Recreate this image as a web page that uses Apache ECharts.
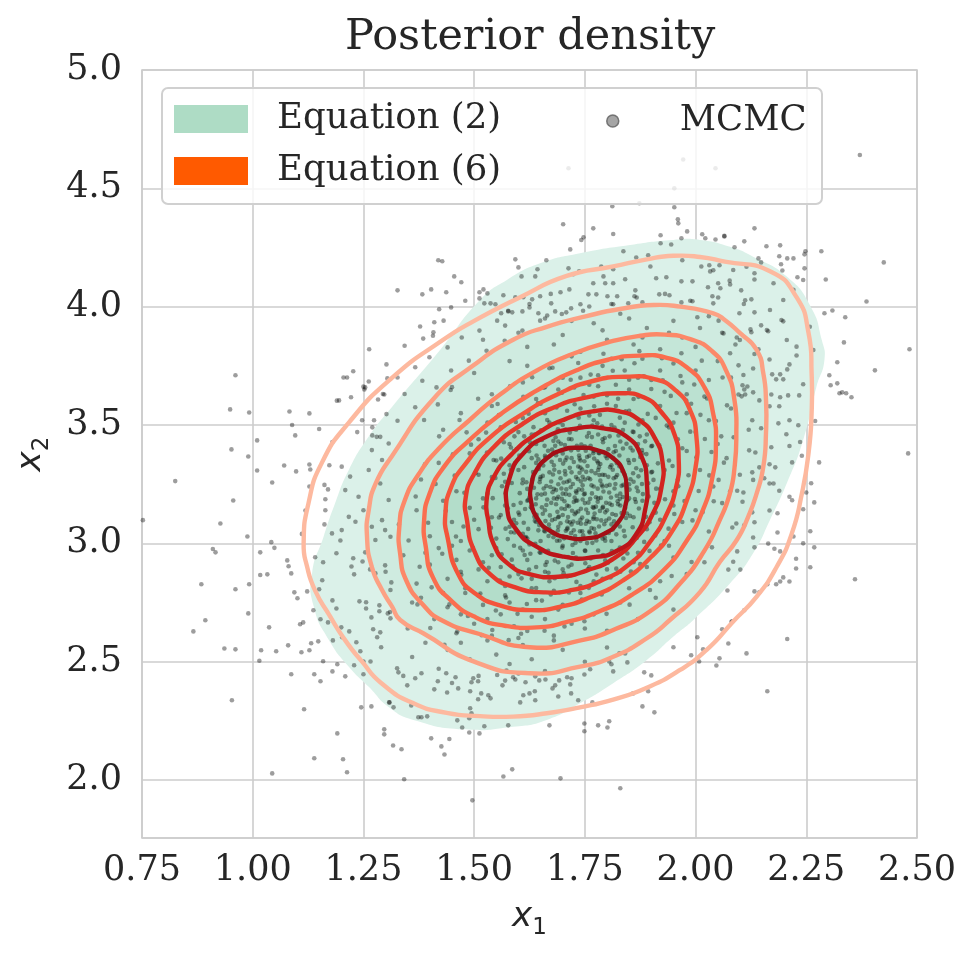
<!DOCTYPE html>
<html>
<head>
<meta charset="utf-8">
<title>Posterior density</title>
<script src="https://cdn.jsdelivr.net/npm/echarts@6.0.0/dist/echarts.min.js"></script>
<style>
html, body { margin: 0; padding: 0; background: #ffffff; }
#chart { width: 977px; height: 958px; }
</style>
</head>
<body>
<div id="chart"></div>
<script>
// axes
var xRange = [0.75, 2.50];
var yRange = [1.755, 5.0];
var xTickValues = [0.75, 1.00, 1.25, 1.50, 1.75, 2.00, 2.25, 2.50];
var xTickLabels = ['0.75', '1.00', '1.25', '1.50', '1.75', '2.00', '2.25', '2.50'];
var yTickValues = [2.0, 2.5, 3.0, 3.5, 4.0, 4.5, 5.0];
var yTickLabels = ['2.0', '2.5', '3.0', '3.5', '4.0', '4.5', '5.0'];

// Equation (2): outer filled density region
var eq2Outer = [[1.160,3.028],[1.186,3.169],[1.217,3.310],[1.262,3.451],[1.315,3.577],[1.423,3.817],[1.513,4.028],[1.574,4.113],[1.649,4.183],[1.739,4.226],[1.852,4.261],[1.950,4.282],[2.010,4.282],[2.078,4.253],[2.130,4.211],[2.206,4.127],[2.260,4.000],[2.285,3.859],[2.291,3.775],[2.273,3.662],[2.243,3.437],[2.206,3.254],[2.168,3.099],[2.130,2.958],[2.078,2.831],[1.995,2.676],[1.950,2.606],[1.890,2.507],[1.814,2.409],[1.739,2.324],[1.664,2.254],[1.588,2.225],[1.476,2.214],[1.363,2.254],[1.310,2.304],[1.262,2.394],[1.217,2.479],[1.172,2.592],[1.138,2.732],[1.134,2.873]];

// Equation (6): contour lines, outermost to innermost
var eq6Ring1 = [[1.115,3.00],[1.126,3.17],[1.156,3.34],[1.217,3.51],[1.315,3.70],[1.430,3.86],[1.500,3.94],[1.604,4.04],[1.709,4.13],[1.814,4.17],[1.890,4.20],[1.950,4.215],[2.010,4.21],[2.066,4.19],[2.168,4.15],[2.228,4.04],[2.255,3.89],[2.262,3.72],[2.262,3.55],[2.255,3.38],[2.240,3.21],[2.217,3.04],[2.183,2.90],[2.138,2.775],[2.085,2.67],[2.025,2.55],[1.965,2.465],[1.890,2.39],[1.814,2.34],[1.739,2.307],[1.664,2.282],[1.588,2.268],[1.513,2.27],[1.438,2.284],[1.363,2.324],[1.290,2.41],[1.247,2.50],[1.209,2.59],[1.172,2.70],[1.141,2.80],[1.123,2.90]];
var eq6Ring2 = [[1.258,3.03],[1.262,3.14],[1.277,3.25],[1.315,3.37],[1.408,3.61],[1.497,3.75],[1.588,3.86],[1.664,3.915],[1.754,3.96],[1.829,3.99],[1.905,4.007],[1.965,4.0],[2.040,3.972],[2.066,3.944],[2.100,3.889],[2.138,3.817],[2.153,3.718],[2.159,3.606],[2.159,3.465],[2.153,3.324],[2.138,3.211],[2.119,3.113],[2.093,3.014],[2.055,2.922],[2.010,2.794],[1.942,2.676],[1.890,2.599],[1.814,2.521],[1.739,2.479],[1.626,2.451],[1.500,2.50],[1.385,2.62],[1.333,2.676],[1.315,2.732],[1.292,2.803],[1.269,2.90]];
var eq6Ring3 = [[1.333,2.955],[1.331,3.068],[1.343,3.180],[1.375,3.293],[1.423,3.406],[1.488,3.518],[1.560,3.631],[1.641,3.730],[1.722,3.800],[1.802,3.849],[1.875,3.877],[1.931,3.882],[1.988,3.863],[2.036,3.814],[2.069,3.730],[2.088,3.603],[2.092,3.462],[2.088,3.321],[2.077,3.208],[2.054,3.096],[2.020,2.969],[1.964,2.828],[1.899,2.715],[1.819,2.638],[1.738,2.589],[1.625,2.561],[1.512,2.617],[1.429,2.673],[1.383,2.744],[1.347,2.842]];
var eq6Ring4 = [[1.391,2.983],[1.387,3.096],[1.399,3.208],[1.431,3.321],[1.488,3.434],[1.560,3.546],[1.641,3.645],[1.730,3.730],[1.810,3.779],[1.875,3.793],[1.931,3.786],[1.980,3.744],[2.020,3.659],[2.040,3.546],[2.046,3.420],[2.038,3.279],[2.016,3.138],[1.980,3.011],[1.927,2.885],[1.859,2.786],[1.786,2.715],[1.706,2.666],[1.641,2.645],[1.569,2.652],[1.504,2.687],[1.448,2.758],[1.407,2.856]];
var eq6Ring5 = [[1.440,3.025],[1.435,3.124],[1.448,3.237],[1.480,3.335],[1.536,3.448],[1.609,3.546],[1.690,3.631],[1.770,3.687],[1.843,3.704],[1.907,3.694],[1.956,3.645],[1.988,3.561],[2.002,3.448],[2.000,3.321],[1.980,3.180],[1.948,3.054],[1.899,2.941],[1.835,2.842],[1.762,2.772],[1.690,2.730],[1.625,2.718],[1.560,2.737],[1.504,2.786],[1.464,2.870]];
var eq6Ring6 = [[1.484,3.096],[1.481,3.194],[1.500,3.293],[1.544,3.406],[1.609,3.504],[1.681,3.575],[1.754,3.617],[1.827,3.634],[1.883,3.617],[1.923,3.554],[1.952,3.462],[1.962,3.349],[1.956,3.237],[1.935,3.124],[1.899,3.011],[1.851,2.913],[1.786,2.842],[1.722,2.803],[1.657,2.793],[1.593,2.814],[1.536,2.870],[1.500,2.969]];
var eq6Ring7 = [[1.532,3.096],[1.528,3.180],[1.544,3.279],[1.585,3.377],[1.641,3.462],[1.706,3.525],[1.770,3.558],[1.827,3.558],[1.875,3.518],[1.907,3.448],[1.925,3.349],[1.923,3.237],[1.903,3.124],[1.867,3.025],[1.819,2.941],[1.754,2.885],[1.690,2.859],[1.625,2.870],[1.577,2.913],[1.544,2.997]];
var eq6Ring8 = [[1.574,3.155],[1.581,3.282],[1.611,3.380],[1.664,3.451],[1.732,3.486],[1.792,3.486],[1.844,3.451],[1.878,3.366],[1.890,3.254],[1.886,3.141],[1.867,3.042],[1.826,2.972],[1.769,2.941],[1.701,2.944],[1.641,2.986],[1.596,3.056]];
var eq6Ring9 = [[1.628,3.183],[1.630,3.254],[1.641,3.310],[1.664,3.359],[1.698,3.394],[1.735,3.404],[1.777,3.394],[1.814,3.359],[1.837,3.303],[1.844,3.233],[1.841,3.155],[1.826,3.091],[1.795,3.042],[1.754,3.021],[1.713,3.024],[1.675,3.049],[1.645,3.099]];
var eq6Colors = ['#fdb99f', '#fca184', '#fc8868', '#fa6e4f', '#f3553b', '#e63b2c', '#d2241f', '#ba1519', '#a30f16'];

// MCMC samples
var mcmcLeft = [[1.263,3.82],[1.302,3.756],[1.227,3.727],[1.205,3.701],[1.213,3.701],[1.262,3.684],[1.25,3.662],[1.252,3.65],[1.304,3.697],[1.297,3.629],[1.283,3.608],[1.195,3.604],[0.961,3.71],[0.949,3.566],[0.992,3.553],[1.083,3.557],[1.128,3.549],[1.089,3.50],[1.096,3.456],[1.15,3.483],[1.18,3.428],[1.01,3.435],[0.952,3.397],[0.99,3.367],[1.01,3.308],[1.071,3.329],[1.098,3.304],[1.128,3.333],[1.13,3.312],[1.044,3.257],[1.128,3.24],[0.825,3.263],[0.956,3.181],[1.119,3.139],[0.927,3.084],[0.988,3.029],[1.042,3.005],[1.049,2.981],[0.91,2.976],[0.752,3.098],[1.247,3.52],[1.274,3.52],[1.236,3.47],[1.27,3.456],[1.288,3.45],[1.173,3.33],[1.162,3.247],[1.17,3.228],[1.164,3.186],[1.164,3.14],[1.162,3.08],[1.179,3.042],[1.111,3.04],[1.198,3.012],[1.201,3.324],[1.22,3.282],[1.209,3.225],[1.239,3.197],[1.25,3.14],[1.217,3.112],[1.232,3.091],[1.201,3.056],[1.269,3.07],[1.292,3.098],[1.277,3.014],[1.299,3.056],[1.311,3.028],[1.269,3.394],[1.292,3.352],[1.262,3.31],[1.288,3.253],[1.307,3.183],[1.28,3.45],[1.307,3.422],[0.916,2.962],[1.017,2.962],[0.884,2.827],[0.961,2.806],[0.992,2.827],[1.017,2.866],[1.033,2.869],[1.078,2.928],[1.081,2.903],[1.087,2.873],[1.094,2.793],[1.101,2.768],[1.123,2.797],[0.99,2.704],[0.893,2.675],[0.866,2.628],[1.037,2.645],[1.107,2.658],[1.114,2.666],[0.936,2.556],[0.961,2.552],[1.019,2.548],[1.053,2.544],[1.08,2.569],[1.11,2.54],[1.128,2.548],[1.132,2.578],[1.148,2.586],[1.015,2.504],[1.087,2.447],[1.139,2.447],[1.153,2.417],[1.159,2.502],[1.18,2.459],[1.191,2.489],[1.209,2.438],[1.229,2.485],[1.25,2.447],[0.953,2.337],[1.116,2.299],[1.245,2.307],[1.268,2.311],[1.297,2.214],[1.297,2.193],[1.191,2.197],[1.139,2.092],[1.204,2.088],[1.213,2.033],[1.044,2.028],[1.308,2.328],[1.141,2.941],[1.159,2.92],[1.189,2.958],[1.227,2.937],[1.223,2.902],[1.248,2.923],[1.229,2.869],[1.157,2.844],[1.15,2.806],[1.18,2.759],[1.189,2.725],[1.137,2.717],[1.153,2.679],[1.17,2.666],[1.2,2.645],[1.218,2.628],[1.202,2.603],[1.181,2.59],[1.234,2.582],[1.243,2.544],[1.25,2.501],[1.266,2.501],[1.241,2.755],[1.256,2.751],[1.256,2.725],[1.268,2.687],[1.272,2.637],[1.281,2.603],[1.288,2.624],[1.29,2.561],[1.286,2.713],[1.305,2.704],[1.311,2.683],[1.254,2.962],[1.265,2.89],[1.277,2.873],[1.299,2.907],[1.313,2.835],[1.311,2.803],[1.286,2.738]];
var mcmcBottom = [[1.317,2.146],[1.336,2.13],[1.403,2.176],[1.426,2.142],[1.433,2.108],[1.444,2.173],[1.342,2.003],[1.496,1.914],[1.566,2.015],[1.586,2.045],[1.695,2.007],[1.83,1.965],[1.67,2.231],[1.749,2.239],[1.749,2.206],[1.78,2.231],[1.801,2.222],[1.805,2.248],[1.88,2.311],[1.907,2.286],[1.893,2.375],[1.859,2.366],[1.884,2.455],[1.9,2.442],[2.162,2.375],[2.115,2.535],[2.074,2.577],[2.047,2.484],[2.054,2.514],[2.008,2.501],[1.99,2.527],[2.017,2.552],[1.95,2.561],[2.004,2.603],[2.06,2.637],[2.081,2.669],[1.489,2.201],[1.512,2.197],[1.473,2.222],[1.523,2.227],[1.577,2.231],[1.374,2.265],[1.381,2.265],[1.394,2.269],[1.309,2.328],[1.318,2.307],[1.358,2.315],[1.491,2.303],[1.489,2.261],[1.462,2.252],[1.494,2.282],[1.41,2.383],[1.439,2.37],[1.464,2.387],[1.491,2.375],[1.509,2.341],[1.516,2.366],[1.532,2.358],[1.537,2.345],[1.564,2.4],[1.604,2.328],[1.611,2.358],[1.625,2.366],[1.638,2.337],[1.637,2.375],[1.677,2.387],[1.683,2.4],[1.69,2.353],[1.717,2.404],[1.719,2.366],[1.735,2.337],[1.767,2.328],[1.326,2.472],[1.329,2.455],[1.349,2.4],[1.367,2.43],[1.381,2.451],[1.418,2.417],[1.437,2.451],[1.458,2.434],[1.498,2.43],[1.509,2.417],[1.494,2.413],[1.552,2.444],[1.573,2.462],[1.588,2.434],[1.593,2.425],[1.616,2.413],[1.638,2.438],[1.647,2.421],[1.661,2.425],[1.692,2.421],[1.71,2.434],[1.749,2.446],[1.762,2.468],[1.805,2.501],[1.81,2.489],[1.814,2.459],[1.846,2.497],[1.828,2.535],[1.841,2.535]];
var mcmcRight = [[2.284,4.234],[2.294,4.115],[2.425,4.187],[2.386,4.022],[2.291,3.972],[2.309,3.984],[2.338,3.955],[2.335,3.849],[2.483,3.82],[2.32,3.765],[2.405,3.731],[2.302,3.71],[2.305,3.668],[2.32,3.676],[2.325,3.634],[2.331,3.638],[2.34,3.634],[2.352,3.617],[2.48,3.38],[2.279,3.342],[2.261,3.254],[2.25,3.215],[2.268,3.173],[2.243,3.144],[2.259,3.051],[2.268,2.983],[2.243,3.0],[2.259,2.899],[2.36,2.848],[2.227,2.894],[2.212,2.839],[2.198,2.856],[2.191,2.839],[2.182,2.827],[2.162,2.827],[2.144,2.793],[2.133,2.797],[2.11,2.717],[2.083,2.671],[2.207,2.596],[2.27,3.517],[2.236,3.428],[2.24,3.37],[2.218,3.342],[2.212,3.197],[2.218,3.182],[2.221,3.029],[2.185,3.046],[2.178,2.977],[2.191,2.966],[2.164,2.999],[2.227,2.935],[2.133,4.331],[2.065,4.299],[2.11,4.276],[2.088,4.251],[2.16,4.255],[2.191,4.259],[2.189,4.213],[2.193,4.179],[2.196,4.153],[2.207,4.204],[2.221,4.204],[2.142,4.204],[2.148,4.187],[2.248,4.234],[2.246,4.221],[2.246,4.162],[2.23,4.124],[2.133,4.141],[2.133,4.115],[2.078,4.094],[2.103,4.069],[2.112,4.027],[2.126,4.031],[2.099,3.972],[2.133,3.976],[2.148,3.921],[2.124,3.904],[2.126,3.892],[2.164,3.896],[2.198,3.938],[2.371,4.641],[2.228,3.794],[2.212,3.756],[2.207,3.735],[2.191,3.714],[2.173,3.714],[2.182,3.693],[2.198,3.693],[2.243,3.672],[2.234,3.625],[2.209,3.625],[2.191,3.617],[2.171,3.629],[2.189,3.579],[2.167,3.579],[2.144,3.604],[2.13,3.638],[2.112,3.629],[2.106,3.668],[2.097,3.629],[2.117,3.663],[2.108,3.711],[2.097,3.752],[2.13,3.739],[2.142,3.82],[2.167,3.777],[2.128,3.52],[2.148,3.486],[2.187,3.507],[2.212,3.52],[2.232,3.499],[2.205,3.461],[2.212,3.411],[2.171,3.406],[2.135,3.384],[2.121,3.393],[2.167,3.334],[2.18,3.321],[2.155,3.275],[2.167,3.253],[2.176,3.253],[2.189,3.222],[2.167,3.139],[2.185,3.127],[2.144,3.321],[2.128,3.3],[2.13,3.268],[2.094,3.222],[2.108,3.215],[2.106,3.176],[2.128,3.131],[2.133,3.089],[2.11,3.076],[2.092,3.084],[2.13,3.025],[2.133,2.983],[2.094,2.966],[2.085,2.922],[2.074,2.889],[2.101,2.889],[2.072,2.801],[2.194,3.944],[2.161,3.901],[2.206,3.859],[2.228,3.831],[2.1,3.859],[2.078,3.803],[2.063,3.887],[2.168,3.986],[2.198,4.028],[2.221,4.071],[2.243,4.113],[2.085,4.155],[2.115,4.169],[2.176,4.099],[2.258,3.915],[2.266,3.817]];
var mcmcTop = [[1.701,4.348],[1.769,4.331],[1.812,4.424],[1.873,4.437],[1.952,4.42],[1.952,4.50],[1.972,4.622],[1.713,4.585],[2.045,4.585],[1.96,4.369],[1.961,4.352],[1.981,4.318],[1.814,4.307],[1.742,4.282],[1.747,4.293],[1.717,4.242],[2.015,4.306],[2.022,4.289],[2.045,4.284],[2.065,4.297],[1.968,4.289],[1.921,4.302],[1.921,4.268],[1.945,4.263],[1.837,4.234],[1.593,4.2],[1.663,4.196],[1.6,4.166],[1.607,4.128],[1.643,4.158],[1.638,4.128],[1.419,4.196],[1.428,4.192],[1.455,4.128],[1.471,4.103],[1.327,4.069],[1.383,4.052],[1.403,4.073],[1.437,4.061],[1.421,3.989],[1.512,4.035],[1.53,4.056],[1.521,4.073],[1.378,3.916],[1.41,3.934],[1.408,3.892],[1.385,3.865],[1.713,4.162],[1.737,4.149],[1.724,4.137],[1.787,4.17],[1.814,4.158],[1.792,4.128],[1.866,4.208],[1.893,4.217],[1.898,4.17],[1.911,4.12],[1.934,4.124],[1.97,4.196],[1.968,4.107],[1.993,4.107],[2.013,4.17],[2.031,4.175],[2.054,4.175],[2.033,4.149],[2.04,4.154],[2.051,4.099],[2.056,4.078],[1.864,4.069],[1.862,4.044],[1.841,4.116],[1.814,4.099],[1.796,4.099],[1.769,4.099],[1.758,4.052],[1.776,4.052],[1.801,4.044],[1.823,4.044],[1.695,4.061],[1.715,4.073],[1.674,4.014],[1.649,4.044],[1.631,4.031],[1.611,4.04],[1.593,4.04],[1.566,4.048],[1.548,4.01],[1.537,4.014],[1.523,4.014],[1.561,3.972],[1.577,3.98],[1.586,3.976],[1.609,3.98],[1.625,3.997],[1.645,3.972],[1.665,3.963],[1.683,3.98],[1.708,3.976],[1.719,3.993],[1.74,4.01],[1.76,4.001],[1.814,4.01],[1.848,4.014],[1.88,4.018],[1.918,4.052],[1.941,4.048],[1.968,4.018],[1.993,4.023],[2.038,4.044],[2.04,4.014],[2.051,4.039],[1.343,3.835],[1.407,3.877],[1.431,3.941],[1.448,3.997],[1.48,4.025],[1.512,4.061],[1.254,3.659],[1.222,3.617],[1.19,3.603],[1.294,3.631],[1.327,3.701],[1.367,3.744],[1.399,3.786],[1.44,3.828],[1.472,3.870],[1.512,3.899],[1.552,3.941],[1.577,3.983],[1.625,4.011],[1.673,4.054],[1.383,3.687],[1.343,3.631],[1.302,3.546],[1.27,3.49],[1.327,3.518],[1.367,3.575],[1.415,3.659],[1.448,3.730],[1.488,3.772],[1.528,3.814],[1.569,3.856],[1.609,3.899],[1.649,3.941],[1.698,3.969],[1.746,3.983],[1.81,4.011],[1.867,4.039],[1.931,4.054],[1.988,4.025],[2.028,4.082],[2.077,4.11],[2.109,4.011],[2.052,3.941],[2.004,3.955],[2.093,3.870],[2.133,3.8]];
var mcmcBands = [[1.36,2.52],[1.42,2.47],[1.47,2.58],[1.51,2.44],[1.55,2.53],[1.58,2.49],[1.61,2.57],[1.66,2.46],[1.70,2.55],[1.45,2.41],[1.53,2.59],[1.63,2.51],[1.39,2.58],[1.75,2.50],[1.49,2.51],[1.57,2.42],[1.68,2.59],[1.80,2.56],[1.34,2.44],[1.60,2.45],[1.72,2.43],[1.44,2.55],
[1.31,2.71],[1.35,2.64],[1.38,2.77],[1.41,2.68],[1.44,2.73],[1.46,2.62],[1.48,2.79],[1.50,2.66],[1.52,2.74],[1.54,2.61],[1.56,2.70],[1.57,2.78],[1.59,2.65],[1.61,2.72],[1.62,2.63],[1.64,2.76],[1.66,2.68],[1.68,2.61],[1.70,2.74],[1.72,2.66],[1.74,2.79],[1.77,2.70],[1.80,2.63],[1.83,2.75],[1.87,2.68],[1.91,2.77],[1.47,2.70],[1.53,2.68],[1.58,2.75],[1.63,2.69],[1.69,2.72],[1.75,2.64],[1.43,2.79],[1.60,2.60],[1.95,2.72],[1.36,2.75],[1.51,2.78],
[1.30,2.88],[1.34,2.95],[1.37,2.83],[1.40,2.91],[1.42,2.98],[1.44,2.85],[1.46,2.93],[1.48,2.81],[1.49,2.97],[1.51,2.89],[1.53,2.84],[1.54,2.95],[1.56,2.90],[1.57,2.82],[1.59,2.99],[1.60,2.87],[1.62,2.93],[1.63,2.81],[1.65,2.96],[1.66,2.88],[1.67,2.84],[1.69,2.92],[1.70,2.99],[1.71,2.86],[1.73,2.94],[1.74,2.82],[1.76,2.90],[1.78,2.97],[1.79,2.85],[1.81,2.93],[1.83,2.88],[1.85,2.81],[1.87,2.96],[1.89,2.90],[1.92,2.84],[1.95,2.94],[1.98,2.87],[2.02,2.92],[1.52,2.92],[1.58,2.86],[1.61,2.97],[1.64,2.90],[1.68,2.80],[1.72,2.91],[1.75,2.97],[1.80,2.89],[1.47,2.88],[1.55,2.98],[1.63,2.85],[1.86,2.92],[1.39,2.96],[1.70,2.89],[1.94,2.99],[1.45,2.99],[1.77,2.84],
[1.33,3.08],[1.37,3.14],[1.40,3.03],[1.43,3.18],[1.45,3.09],[1.47,3.01],[1.49,3.15],[1.51,3.06],[1.52,3.19],[1.54,3.11],[1.55,3.02],[1.57,3.16],[1.58,3.07],[1.60,3.13],[1.61,3.04],[1.62,3.18],[1.64,3.09],[1.65,3.01],[1.66,3.14],[1.67,3.06],[1.68,3.19],[1.69,3.11],[1.70,3.03],[1.71,3.16],[1.72,3.08],[1.73,3.13],[1.74,3.01],[1.75,3.17],[1.76,3.05],[1.77,3.11],[1.78,3.19],[1.79,3.02],[1.80,3.14],[1.81,3.08],[1.83,3.16],[1.84,3.03],[1.86,3.11],[1.88,3.18],[1.89,3.06],[1.91,3.13],[1.93,3.01],[1.95,3.16],[1.97,3.09],[2.00,3.14],[2.03,3.05],[2.06,3.17],[1.59,3.10],[1.63,3.15],[1.66,3.05],[1.70,3.12],[1.73,3.18],[1.76,3.09],[1.79,3.15],[1.82,3.12],[1.85,3.19],[1.56,3.12],[1.69,3.07],[1.74,3.10],[1.87,3.04],[1.62,3.02],[1.77,3.15],[1.50,3.10],[1.92,3.10],[1.71,3.06],[1.64,3.19],[1.81,3.01],
[1.38,3.27],[1.42,3.34],[1.46,3.22],[1.49,3.38],[1.51,3.29],[1.53,3.21],[1.55,3.35],[1.57,3.26],[1.59,3.39],[1.60,3.31],[1.62,3.23],[1.63,3.36],[1.65,3.28],[1.66,3.21],[1.68,3.33],[1.69,3.25],[1.70,3.38],[1.72,3.30],[1.73,3.22],[1.74,3.35],[1.75,3.27],[1.77,3.39],[1.78,3.31],[1.79,3.24],[1.80,3.36],[1.82,3.28],[1.83,3.21],[1.85,3.34],[1.86,3.26],[1.88,3.38],[1.90,3.30],[1.92,3.23],[1.94,3.35],[1.96,3.27],[1.98,3.39],[2.01,3.31],[2.04,3.24],[2.07,3.36],[2.10,3.29],[1.67,3.30],[1.71,3.26],[1.74,3.32],[1.77,3.24],[1.81,3.33],[1.84,3.29],[1.64,3.34],[1.70,3.21],[1.76,3.37],[1.79,3.29],[1.87,3.22],[1.61,3.27],[1.73,3.28],[1.89,3.33],[1.58,3.33],[1.72,3.36],[1.82,3.39],[1.95,3.22],[1.54,3.28],[1.68,3.23],[1.78,3.34],[1.93,3.31],[1.66,3.37],[1.85,3.25],[1.75,3.21],
[1.43,3.48],[1.47,3.55],[1.51,3.44],[1.54,3.58],[1.56,3.49],[1.58,3.42],[1.61,3.53],[1.63,3.46],[1.65,3.59],[1.67,3.51],[1.69,3.43],[1.71,3.56],[1.73,3.48],[1.75,3.41],[1.76,3.54],[1.78,3.46],[1.80,3.59],[1.81,3.50],[1.83,3.43],[1.85,3.56],[1.86,3.47],[1.88,3.52],[1.90,3.41],[1.92,3.58],[1.94,3.49],[1.96,3.44],[1.98,3.55],[2.00,3.47],[2.03,3.52],[2.05,3.42],[2.08,3.57],[2.12,3.48],[1.70,3.50],[1.74,3.57],[1.79,3.44],[1.84,3.51],[1.89,3.46],[1.60,3.47],[1.66,3.55],[1.77,3.52],[1.82,3.58],[1.91,3.53],[1.72,3.44],[1.87,3.42],[1.95,3.51],[1.64,3.42],[1.99,3.59],[1.53,3.51],
[1.45,3.66],[1.50,3.72],[1.54,3.63],[1.58,3.77],[1.61,3.68],[1.64,3.61],[1.67,3.74],[1.69,3.65],[1.72,3.79],[1.74,3.70],[1.77,3.62],[1.79,3.75],[1.82,3.67],[1.84,3.73],[1.86,3.61],[1.88,3.78],[1.90,3.69],[1.93,3.64],[1.95,3.76],[1.97,3.68],[2.00,3.73],[2.02,3.62],[2.05,3.77],[2.08,3.70],[2.11,3.65],[1.70,3.70],[1.76,3.67],[1.81,3.78],[1.87,3.70],[1.92,3.73],[1.66,3.66],[1.85,3.65],[1.98,3.63],[1.62,3.75],[1.78,3.71],[2.03,3.69],
[1.52,3.86],[1.57,3.92],[1.62,3.83],[1.66,3.95],[1.70,3.88],[1.74,3.81],[1.77,3.93],[1.80,3.86],[1.83,3.97],[1.86,3.84],[1.89,3.91],[1.92,3.82],[1.95,3.94],[1.97,3.87],[2.00,3.83],[2.03,3.96],[2.06,3.89],[2.09,3.84],[1.72,3.94],[1.79,3.90],[1.88,3.87],[1.94,3.89],[1.68,3.84],[2.01,3.91],[1.85,3.95],[1.60,3.89]];
var mcmcMid = [[1.352,3.012],[1.368,3.198],[1.377,2.901],[1.389,3.334],[1.396,3.087],[1.404,2.814],[1.413,3.251],[1.421,3.452],[1.428,2.956],[1.436,3.138],[1.444,2.742],[1.452,3.376],[1.459,3.029],[1.467,3.521],[1.471,2.867],[1.478,3.214],[1.486,2.693],[1.493,3.417],[1.497,2.981],[1.503,3.297],[1.509,3.611],[1.514,2.788],[1.521,3.152],[1.527,3.468],[1.533,2.897],[1.538,3.066],[1.544,3.352],[1.549,2.716],[1.553,3.589],[1.558,2.843],[1.563,3.241],[1.567,3.427],[1.572,2.771],[1.576,3.018],[1.581,3.664],[1.585,2.931],[1.589,3.162],[1.594,3.513],[1.598,2.702],[1.602,3.371],[1.607,2.852],[1.611,3.619],[1.615,3.023],[1.619,2.744],[1.623,3.548],[1.627,2.956],[1.631,3.702],[1.636,3.112],[1.640,2.811],[1.644,3.593],[1.648,3.258],[1.653,2.758],[1.657,3.658],[1.661,2.909],[1.665,3.521],[1.669,3.079],[1.673,2.784],[1.677,3.742],[1.682,2.853],[1.686,3.574],[1.690,3.197],[1.694,2.731],[1.698,3.636],[1.702,2.874],[1.706,3.481],[1.710,3.093],[1.714,2.792],[1.718,3.691],[1.723,2.959],[1.727,3.588],[1.731,2.837],[1.735,3.762],[1.739,3.051],[1.743,2.763],[1.747,3.627],[1.751,2.916],[1.755,3.451],[1.759,2.812],[1.763,3.713],[1.767,3.002],[1.771,3.579],[1.776,2.868],[1.780,3.664],[1.784,3.137],[1.788,2.784],[1.792,3.801],[1.796,2.928],[1.800,3.626],[1.804,3.044],[1.808,2.856],[1.813,3.729],[1.817,3.489],[1.821,2.893],[1.825,3.611],[1.829,3.071],[1.833,3.778],[1.837,2.936],[1.842,3.558],[1.846,3.182],[1.850,3.691],[1.854,2.881],[1.858,3.472],[1.862,3.761],[1.867,3.023],[1.871,3.619],[1.875,2.912],[1.879,3.394],[1.883,3.706],[1.888,3.112],[1.892,3.547],[1.896,2.968],[1.900,3.652],[1.905,3.268],[1.909,3.033],[1.913,3.578],[1.918,3.414],[1.922,2.991],[1.926,3.689],[1.931,3.186],[1.935,3.498],[1.939,3.062],[1.944,3.623],[1.948,3.327],[1.952,3.124],[1.957,3.551],[1.961,3.241],[1.966,3.707],[1.970,3.402],[1.975,3.179],[1.979,3.603],[1.984,3.288],[1.988,3.472],[1.993,3.097],[1.997,3.671],[2.002,3.364],[2.007,3.221],[2.011,3.543],[2.016,3.132],[2.021,3.441],[2.026,3.612],[2.031,3.287],[2.036,3.386],[2.041,3.178],[2.046,3.517],[2.052,3.268],[2.058,3.452],[2.064,3.341],[2.071,3.583],[2.078,3.219],[2.086,3.448],[1.456,3.286],[1.462,2.628],[1.476,3.071],[1.483,3.469],[1.517,2.612],[1.529,3.384],[1.541,2.634],[1.556,3.542],[1.578,2.591],[1.591,3.452],[1.606,2.618],[1.634,3.491],[1.659,2.631],[1.679,3.433],[1.704,2.649],[1.726,3.659],[1.749,2.671],[1.778,3.507],[1.799,2.702],[1.826,3.456],[1.851,2.741],[1.873,3.812],[1.897,2.803],[1.924,3.782],[1.946,2.862],[1.968,3.803],[1.991,2.921],[2.014,3.772],[2.037,2.983],[2.061,3.701],[2.083,3.067],[2.104,3.621],[1.372,2.742],[1.387,3.521],[1.401,2.642],[1.418,3.587],[1.433,2.571],[1.447,3.648]];
var mcmcCore = [[1.655,3.125],[1.685,3.165],[1.715,3.205],[1.745,3.245],[1.775,3.155],[1.805,3.215],[1.725,3.055],[1.695,3.275],[1.765,3.305],[1.635,3.235],[1.815,3.275],[1.755,3.095],[1.665,3.185],[1.705,3.145],[1.785,3.265],[1.735,3.325],[1.645,3.055],[1.825,3.165],[1.675,3.345],[1.795,3.025],[1.615,3.145],[1.845,3.235],[1.725,3.175],[1.755,3.365],[1.685,3.225],[1.775,3.195],[1.705,3.305],[1.735,3.135],[1.765,3.245],[1.655,3.285],[1.805,3.105],[1.695,3.085],[1.745,3.185],[1.785,3.335],[1.625,3.195],[1.835,3.305],[1.715,3.265],[1.675,3.045],[1.765,3.065],[1.735,3.395],[1.815,3.385],[1.645,3.355],[1.865,3.175],[1.595,3.085],[1.705,3.415],[1.795,3.445],[1.585,3.255],[1.875,3.365],[1.625,2.995],[1.845,2.985],
[1.612,3.087],[1.633,3.301],[1.648,2.962],[1.659,3.412],[1.671,3.118],[1.682,2.927],[1.694,3.352],[1.703,3.021],[1.716,3.468],[1.722,2.993],[1.731,3.214],[1.742,3.417],[1.751,2.968],[1.758,3.276],[1.767,3.498],[1.774,3.042],[1.783,3.381],[1.791,2.951],[1.798,3.171],[1.806,3.452],[1.813,3.058],[1.822,3.339],[1.829,2.982],[1.837,3.247],[1.844,3.421],[1.852,3.116],[1.859,3.296],[1.868,3.034],[1.874,3.452],[1.881,3.208],[1.889,3.377],[1.896,3.089],[1.571,3.212],[1.583,3.047],[1.592,3.338],[1.604,2.981],[1.618,3.258],[1.626,3.427],[1.639,3.165],[1.647,3.077],[1.663,3.242],[1.676,3.396],[1.687,3.011],[1.698,3.188],[1.709,3.362],[1.727,3.123],[1.738,3.298],[1.746,3.034],[1.762,3.188],[1.771,3.358],[1.787,3.097],[1.795,3.289],[1.809,3.194],[1.818,3.411],[1.833,3.128],[1.848,3.352],[1.863,3.187],[1.877,3.309],[1.893,3.254],[1.907,3.171],[1.915,3.338],[1.556,3.109],[1.548,3.276],[1.562,2.954],[1.587,2.903],[1.624,2.889],[1.668,2.876],[1.713,2.902],[1.757,2.891],[1.802,2.918],[1.846,2.957],[1.884,3.006],[1.902,3.412],[1.871,3.502],[1.829,3.531],[1.784,3.543],[1.736,3.531],[1.692,3.511],[1.651,3.478],[1.613,3.452],[1.583,3.405],[1.561,3.358],[1.542,3.191],[1.652,3.206],[1.702,3.257],[1.741,3.146],[1.779,3.231],[1.812,3.124],[1.688,3.133],[1.725,3.344],[1.763,3.412],[1.797,3.369],[1.678,3.291],[1.641,3.371],[1.719,3.043],[1.755,3.001],[1.796,3.011],[1.838,3.053],[1.628,3.153],[1.603,3.212],[1.867,3.236],[1.853,3.404],[1.668,3.031],[1.734,3.087],[1.772,3.126],[1.714,3.157],[1.756,3.327],[1.684,3.448],[1.822,3.201],[1.745,3.281],[1.707,3.208],
[1.663,3.162],[1.672,3.238],[1.681,3.311],[1.689,3.054],[1.697,3.147],[1.708,3.228],[1.716,3.319],[1.724,3.092],[1.733,3.181],[1.741,3.262],[1.749,3.347],[1.757,3.128],[1.766,3.211],[1.774,3.296],[1.782,3.071],[1.791,3.154],[1.799,3.243],[1.807,3.322],[1.816,3.093],[1.824,3.178],[1.641,3.121],[1.649,3.272],[1.658,3.053],[1.667,3.391],[1.676,3.098],[1.685,3.372],[1.693,3.012],[1.701,3.337],[1.711,3.066],[1.719,3.393],[1.728,3.031],[1.736,3.228],[1.744,3.109],[1.753,3.302],[1.761,3.046],[1.769,3.381],[1.777,3.102],[1.786,3.192],[1.794,3.081],[1.803,3.398],[1.811,3.162],[1.819,3.251],[1.828,3.371],[1.836,3.196],[1.845,3.126],[1.853,3.271],[1.861,3.352],[1.631,3.268],[1.622,3.061],[1.613,3.322],[1.605,3.171],[1.596,3.398],[1.687,3.188],[1.723,3.251],[1.758,3.172],[1.792,3.219],[1.712,3.111],[1.748,3.207],[1.782,3.322],[1.677,3.216],[1.738,3.359],[1.771,3.061],[1.704,3.178],[1.741,3.083],[1.779,3.176],[1.656,3.329],[1.813,3.311],[1.833,3.243],[1.696,3.421],[1.766,3.449],
[1.602,3.121],[1.609,3.254],[1.617,3.027],[1.624,3.389],[1.632,3.142],[1.638,2.998],[1.646,3.314],[1.653,3.437],[1.661,3.094],[1.667,2.968],[1.674,3.261],[1.683,3.412],[1.691,3.113],[1.699,2.982],[1.706,3.291],[1.714,3.441],[1.721,3.138],[1.729,3.002],[1.737,3.371],[1.744,3.226],[1.752,3.083],[1.759,3.466],[1.768,3.153],[1.776,3.012],[1.783,3.289],[1.791,3.427],[1.798,3.096],[1.806,3.247],[1.814,3.361],[1.821,3.038],[1.829,3.188],[1.836,3.401],[1.843,3.107],[1.851,3.227],[1.858,3.068],[1.866,3.317],[1.872,3.147],[1.879,3.251],[1.886,3.431],[1.894,3.198],[1.622,3.183],[1.643,3.207],[1.661,3.363],[1.679,3.026],[1.697,3.232],[1.716,3.089],[1.734,3.272],[1.752,3.391],[1.769,3.103],[1.788,3.248],[1.806,3.168],[1.823,3.289],[1.841,3.149],[1.858,3.392],[1.576,3.148],[1.583,3.311],[1.591,3.046],[1.614,2.951],[1.638,3.461],[1.664,2.921],[1.689,3.482],[1.712,2.942],[1.739,3.497],[1.763,2.936],[1.789,3.493],[1.811,2.967],[1.836,3.479],[1.857,3.004],[1.879,3.072],[1.902,3.302],[1.911,3.231],[1.567,3.294],[1.571,3.062],[1.674,3.171],[1.706,3.351],[1.744,3.051],[1.781,3.382],[1.817,3.232],[1.653,3.152],[1.727,3.193],[1.796,3.131],[1.692,3.301],[1.762,3.271],[1.707,3.053],[1.778,3.347],[1.744,3.312],[1.718,3.237],[1.683,3.103],[1.803,3.281],[1.753,3.143],[1.657,3.232],[1.828,3.326],[1.732,3.412],[1.637,3.095],[1.871,3.283]];

var mcmcAll = [].concat(mcmcLeft, mcmcBottom, mcmcRight, mcmcTop, mcmcBands, mcmcMid, mcmcCore);
var eq6Rings = [eq6Ring1, eq6Ring2, eq6Ring3, eq6Ring4, eq6Ring5, eq6Ring6, eq6Ring7, eq6Ring8, eq6Ring9];
// the inner Eq. (2) density levels sit close to the Eq. (6) rings
var eq2Levels = [eq2Outer, eq6Ring2, eq6Ring3, eq6Ring4, eq6Ring5, eq6Ring6, eq6Ring7, eq6Ring8];

var serif = 'DejaVu Serif';
var ink = '#262626';

function ringData(levels) {
    return levels.map(function (ring, i) { return [ring[0][0], ring[0][1], i]; });
}

function ringItem(levels, styleOf) {
    return function (params, api) {
        var k = api.value(2);
        var pts = levels[k].map(function (p) { return api.coord(p); });
        return {
            type: 'polygon',
            shape: { points: pts, smooth: 0.55 },
            style: styleOf(k)
        };
    };
}

function tickText(values, labels) {
    return function (v) {
        for (var i = 0; i < values.length; i++) {
            if (Math.abs(v - values[i]) < 1e-6) return labels[i];
        }
        return '';
    };
}

var myChart = echarts.init(document.getElementById('chart'), null, { renderer: 'canvas' });

var option = {
    animation: false,
    backgroundColor: '#ffffff',
    title: {
        text: 'Posterior density',
        left: 340,
        top: 11,
        textStyle: { fontFamily: serif, fontSize: 43, fontWeight: 'normal', color: ink }
    },
    grid: {
        left: 142, right: 60, top: 70, bottom: 120,
        show: true, borderColor: '#cccccc', borderWidth: 1.6, backgroundColor: 'transparent'
    },
    xAxis: {
        type: 'value',
        min: xRange[0], max: xRange[1], interval: 0.25,
        axisLine: { show: false },
        axisTick: { show: false },
        splitLine: { lineStyle: { color: '#cccccc', width: 1.6 } },
        axisLabel: {
            formatter: tickText(xTickValues, xTickLabels),
            fontFamily: serif, fontSize: 35, color: ink, margin: 15
        },
        name: '{i|x}{s|1}',
        nameLocation: 'middle',
        nameGap: 62,
        nameTextStyle: {
            rich: {
                i: { fontFamily: 'DejaVu Sans', fontStyle: 'italic', fontSize: 34, color: ink, verticalAlign: 'bottom', padding: [0, 0, 6, 0] },
                s: { fontFamily: 'DejaVu Sans', fontSize: 23, color: ink, verticalAlign: 'bottom' }
            }
        }
    },
    yAxis: {
        type: 'value',
        min: yRange[0], max: yRange[1], splitNumber: 6,
        axisLine: { show: false },
        axisTick: { show: false },
        splitLine: { lineStyle: { color: '#cccccc', width: 1.6 } },
        axisLabel: {
            formatter: tickText(yTickValues, yTickLabels),
            showMinLabel: false,
            fontFamily: serif, fontSize: 35, color: ink, margin: 20
        },
        name: '{i|x}{s|2}',
        nameLocation: 'middle',
        nameGap: 88,
        nameTextStyle: {
            rich: {
                i: { fontFamily: 'DejaVu Sans', fontStyle: 'italic', fontSize: 34, color: ink, verticalAlign: 'bottom', padding: [0, 0, 6, 0] },
                s: { fontFamily: 'DejaVu Sans', fontSize: 23, color: ink, verticalAlign: 'bottom' }
            }
        }
    },
    legend: [{
        orient: 'vertical',
        left: 169, top: 96,
        itemWidth: 74, itemHeight: 28, itemGap: 16,
        z: 20,
        selectedMode: false,
        textStyle: { fontFamily: serif, fontSize: 35.5, lineHeight: 28, color: ink, padding: [0, 0, 0, 24] },
        data: [
            { name: 'Equation (2)', icon: 'rect', itemStyle: { color: '#aedcc5', borderWidth: 0 } },
            { name: 'Equation (6)', icon: 'rect', itemStyle: { color: '#ff5a00', borderWidth: 0 } }
        ]
    }, {
        orient: 'vertical',
        left: 601, top: 98,
        itemWidth: 12, itemHeight: 28,
        z: 20,
        selectedMode: false,
        textStyle: { fontFamily: serif, fontSize: 35.5, lineHeight: 28, color: ink, padding: [0, 0, 0, 56] },
        data: [
            { name: 'MCMC', icon: 'circle', itemStyle: { color: '#8e8e8e', borderColor: '#5e5e5e', borderWidth: 1.5 } }
        ]
    }],
    graphic: [{
        type: 'rect',
        z: 10,
        silent: true,
        shape: { x: 162, y: 88, width: 660, height: 116, r: 6 },
        style: { fill: 'rgba(255,255,255,0.8)', stroke: '#d0d0d0', lineWidth: 2 }
    }],
    series: [{
        name: 'Equation (2)',
        type: 'custom',
        z: 1,
        silent: true,
        itemStyle: { color: '#aedcc5' },
        encode: { x: 0, y: 1 },
        data: ringData(eq2Levels),
        renderItem: ringItem(eq2Levels, function (k) {
            if (k === 0) return { fill: '#dbf1e9', stroke: 'none' };
            return { fill: 'rgba(110,190,150,0.10)', stroke: 'rgba(80,170,125,0.30)', lineWidth: 0.8 };
        })
    }, {
        name: 'MCMC',
        type: 'scatter',
        z: 2,
        silent: true,
        symbolSize: 4.6,
        itemStyle: { color: 'rgba(0,0,0,0.48)' },
        data: mcmcAll
    }, {
        name: 'Equation (6)',
        type: 'custom',
        z: 3,
        silent: true,
        itemStyle: { color: '#ff5a00' },
        encode: { x: 0, y: 1 },
        data: ringData(eq6Rings),
        renderItem: ringItem(eq6Rings, function (k) {
            return { fill: 'none', stroke: eq6Colors[k], lineWidth: 4.4 };
        })
    }]
};

myChart.setOption(option);
</script>
</body>
</html>
